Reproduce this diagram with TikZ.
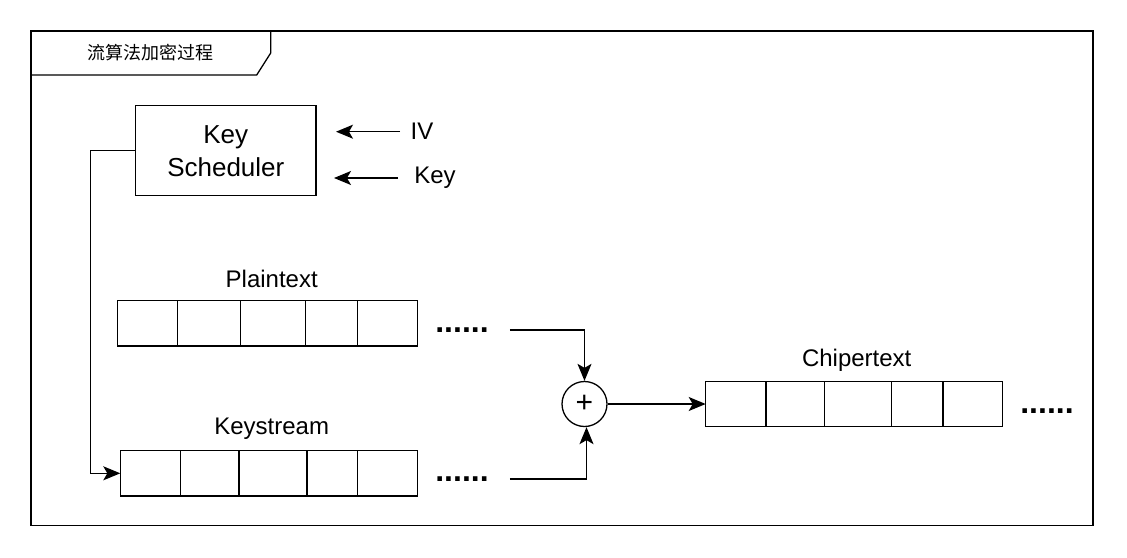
\documentclass[tikz,border=0pt]{standalone}
\usepackage{fontspec}
\setmainfont{Liberation Sans}
\newfontfamily\cjk{Noto Sans CJK SC}
\usetikzlibrary{arrows.meta,shapes.geometric}
\tikzset{
  x=1pt, y=-1pt,
  line/.style={line width=1.3pt, draw=black},
  arr/.style={line width=1.3pt, -{Stealth[length=17pt,width=14pt,inset=4pt]}},
  cell/.style={draw, line width=1.3pt, minimum height=45.3pt, inner sep=0pt, outer sep=0pt},
  lbl/.style={inner sep=0pt, font=\fontsize{24}{29}\selectfont},
  dots/.style={inner sep=0pt, font=\fontsize{32}{38}\selectfont\bfseries},
}
\begin{document}
\begin{tikzpicture}
\useasboundingbox (0,0) rectangle (1127,557);
% frame
\draw[line] (31,31) rectangle (1093,525.5);
\draw[line] (31,75) -- (256.7,75) -- (270.7,53) -- (270.7,31);
\node[inner sep=0pt, font=\fontsize{18}{22}\selectfont\cjk] (title) at (150,53) {流算法加密过程};

% key scheduler
\node[draw, line width=1.3pt, minimum width=180.3pt, minimum height=90pt, align=center,
      font=\fontsize{26}{33}\selectfont] (ks) at (225.8,150.7) {Key\\Scheduler};
\node[lbl] (iv) at (422,131) {IV};
\node[lbl] (key) at (435,178) {Key};
\coordinate (ivs) at (400,131.7);
\coordinate (ivt) at (336,131.7);
\coordinate (keys) at (398,178);
\coordinate (keyt) at (334,178);
\draw[arr] (ivs) -- (ivt);
\draw[arr] (keys) -- (keyt);

% plaintext row
\node[lbl] (plbl) at (271.7,279) {Plaintext};
\node[cell, minimum width=60.4pt] (p1) at (147.5,323.4) {};
\node[cell, minimum width=63pt]   (p2) at (209.2,323.4) {};
\node[cell, minimum width=64.6pt] (p3) at (273,323.4) {};
\node[cell, minimum width=52.4pt] (p4) at (331.5,323.4) {};
\node[cell, minimum width=60pt]   (p5) at (387.7,323.4) {};
\node[dots] (pd) at (462,330) {......};

% keystream row
\node[lbl] (klbl) at (271.7,429) {Keystream};
\node[cell, minimum width=60.4pt] (k1) at (150.5,473.3) {};
\node[cell, minimum width=58.3pt] (k2) at (209.85,473.3) {};
\node[cell, minimum width=68pt]   (k3) at (273,473.3) {};
\node[cell, minimum width=50.7pt] (k4) at (332.35,473.3) {};
\node[cell, minimum width=60pt]   (k5) at (387.7,473.3) {};
\node[dots] (kd) at (462,479) {......};

% xor
\node[draw, circle, line width=1.3pt, minimum size=45pt, inner sep=0pt,
      font=\fontsize{30}{36}\selectfont] (xor) at (584.5,404) {+};

% chipertext row
\node[lbl] (clbl) at (856.7,360.7) {Chipertext};
\node[cell, minimum width=60.3pt] (c1) at (735.85,404) {};
\node[cell, minimum width=58.3pt] (c2) at (795.15,404) {};
\node[cell, minimum width=67.4pt] (c3) at (858,404) {};
\node[cell, minimum width=51.3pt] (c4) at (917.35,404) {};
\node[cell, minimum width=59.7pt] (c5) at (972.85,404) {};
\node[dots] (cd) at (1047,410.7) {......};

% connectors
\draw[arr] (ks.west) -- ++(-44.7,0) |- (k1.west);
\draw[arr] ([xshift=21pt]pd.east) -| (xor);
\draw[arr] ([xshift=21pt]kd.east) -| ([xshift=2pt]xor.south);
\draw[arr] (xor) -- (c1);
\end{tikzpicture}
\end{document}
